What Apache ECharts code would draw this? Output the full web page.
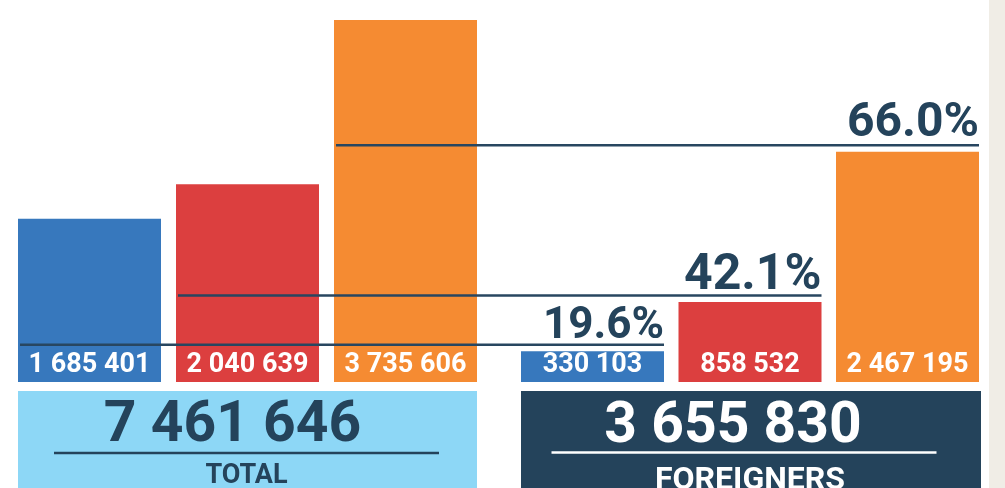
<!DOCTYPE html>
<html><head><meta charset="utf-8">
<script src="https://cdn.jsdelivr.net/npm/echarts@6/dist/echarts.min.js"></script>
<style>html,body{margin:0;padding:0;background:#fff;overflow:hidden}#c{width:1005px;height:488px}</style>
</head><body><div id="c"></div>
<script>
// ---- data ----
const categories = ['Group 1', 'Group 2', 'Group 3'];
const totalValues = [1685401, 2040639, 3735606];
const foreignValues = [330103, 858532, 2467195];
const shareLabels = ['19.6%', '42.1%', '66.0%'];
const groupLabels = ['TOTAL', 'FOREIGNERS'];

// ---- styles ----
const barColors = ['#3778bd', '#dc3f3f', '#f58b32'];
const NAVY = '#24435b';
const FONT = 'Roboto, "Noto Sans", sans-serif';
const BAR_W = 143;

function fmt(n) { return String(n).replace(/\B(?=(\d{3})+(?!\d))/g, ' '); }
function sum(a) { return a.reduce((s, v) => s + v, 0); }

const chart = echarts.init(document.getElementById('c'), null, { renderer: 'canvas' });
const labelCfg = {
  show: true, position: 'insideBottom', distance: 3, color: '#fff',
  fontFamily: FONT, fontWeight: 'bold', fontSize: 27,
  formatter: p => fmt(p.value)
};
function barData(vals) { return vals.map((v, i) => ({ value: v, itemStyle: { color: barColors[i] } })); }

chart.setOption({
  animation: false,
  backgroundColor: '#ffffff',
  grid: [
    { left: 10.5, width: 474, top: 20, bottom: 106 },
    { left: 513.75, width: 472.5, top: 20, bottom: 106 }
  ],
  xAxis: [
    { type: 'category', data: categories, gridIndex: 0, show: false },
    { type: 'category', data: categories, gridIndex: 1, show: false }
  ],
  yAxis: [
    { type: 'value', gridIndex: 0, min: 0, max: 3735606, show: false },
    { type: 'value', gridIndex: 1, min: 0, max: 3880000, show: false }
  ],
  series: [
    { type: 'bar', xAxisIndex: 0, yAxisIndex: 0, barWidth: BAR_W, data: barData(totalValues), label: labelCfg },
    { type: 'bar', xAxisIndex: 1, yAxisIndex: 1, barWidth: BAR_W, data: barData(foreignValues), label: labelCfg }
  ]
});

function px(grid, i, v) { return chart.convertToPixel({ gridIndex: grid }, [i, v]); }

const graphics = [];
// grey strip on right
graphics.push({ type: 'rect', shape: { x: 989, y: 0, width: 16, height: 488 }, style: { fill: '#f0ede6' }, silent: true });

// share lines + labels
const shareFont = [44, 50, 48];
const shareGap = [6, 5.5, 8.8];
for (let i = 0; i < 3; i++) {
  const L = px(0, i, totalValues[i]);
  const R = px(1, i, foreignValues[i]);
  const y = R[1] - 6.5;
  const x1 = L[0] - BAR_W / 2 + 2;
  const x2 = R[0] + BAR_W / 2;
  graphics.push({ type: 'line', z: 10, shape: { x1: x1, y1: y, x2: x2, y2: y }, style: { stroke: '#284660', lineWidth: 2.5 } });
  graphics.push({ type: 'text', z: 10, x: x2, y: y - shareGap[i] - 0.765 * shareFont[i], style: {
    text: shareLabels[i], fill: NAVY, font: 'bold ' + shareFont[i] + 'px ' + FONT,
    align: 'right', verticalAlign: 'top'
  } });
}

// bottom boxes
const groups = [
  { grid: 0, vals: totalValues, fill: '#8dd7f6', text: NAVY, rule: NAVY, numDx: -15, numY: 7.6, ruleDx: -1, ruleY: 62, labelSize: 27, labelY: 72 },
  { grid: 1, vals: foreignValues, fill: NAVY, text: '#ffffff', rule: '#ffffff', numDx: -18, numY: 8.6, ruleDx: -7, ruleY: 61.5, labelSize: 32, labelY: 74 }
];
groups.forEach((g, k) => {
  const a = px(g.grid, 0, 0), b = px(g.grid, 2, 0);
  const left = a[0] - BAR_W / 2, right = b[0] + BAR_W / 2 + (k === 1 ? 2 : 0);
  const cx = (left + right) / 2;
  const top = a[1] + 9;
  graphics.push({ type: 'rect', shape: { x: left, y: top, width: right - left, height: 488 - top + 5 }, style: { fill: g.fill } });
  graphics.push({ type: 'text', z: 5, x: cx + g.numDx, y: top + g.numY, style: {
    text: fmt(sum(g.vals)), fill: g.text, font: 'bold 57px ' + FONT, align: 'center', verticalAlign: 'top'
  } });
  graphics.push({ type: 'line', z: 5, shape: { x1: cx + g.ruleDx - 192.5, y1: top + g.ruleY, x2: cx + g.ruleDx + 192.5, y2: top + g.ruleY }, style: { stroke: g.rule, lineWidth: 2.5 } });
  graphics.push({ type: 'text', z: 5, x: cx - 1, y: top + g.labelY, style: {
    text: groupLabels[k], fill: g.text, font: 'bold ' + g.labelSize + 'px ' + FONT, align: 'center', verticalAlign: 'top'
  } });
});

chart.setOption({ graphic: { elements: graphics } });
</script></body></html>
